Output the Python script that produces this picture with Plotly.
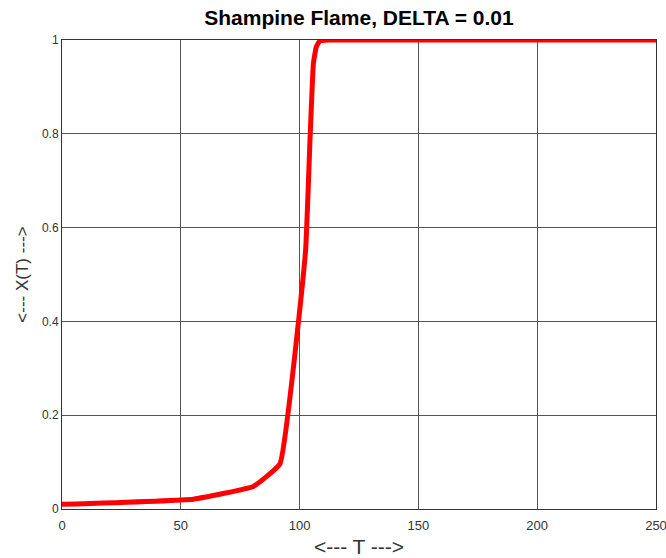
import plotly.graph_objects as go

T = [0, 55.3, 80.5, 91.7, 102.5, 104.4, 105.8, 107.0, 108.5, 112.0, 150, 200, 250]
X = [0.010, 0.021, 0.048, 0.096, 0.55, 0.79, 0.95, 0.985, 0.998, 1.0, 1.0, 1.0, 1.0]

x_ticks = [0, 50, 100, 150, 200, 250]
y_ticks = [0, 0.2, 0.4, 0.6, 0.8, 1]
y_tick_labels = ["0", "0.2", "0.4", "0.6", "0.8", "1"]

fig = go.Figure()
fig.add_trace(go.Scatter(x=T, y=X, mode="lines",
                         line=dict(color="#ff0000", width=5, shape="spline", smoothing=0.3),
                         showlegend=False, cliponaxis=False))

font = "Liberation Sans, Arial, sans-serif"
fig.update_layout(
    width=666, height=558,
    margin=dict(l=62, r=10, t=40, b=49),
    paper_bgcolor="white", plot_bgcolor="white",
    title=dict(text="<b>Shampine Flame, DELTA = 0.01</b>", x=(62 + 656) / 2 / 666, xanchor="center",
               y=1 - 18 / 558, yanchor="middle", font=dict(family=font, size=21, color="black")),
    xaxis=dict(range=[0, 250], tickvals=x_ticks, ticktext=[str(v) for v in x_ticks],
               showgrid=True, gridcolor="#555", gridwidth=1, zeroline=False,
               showline=True, linecolor="#333", linewidth=1, mirror=True, ticks="",
               ticklabelstandoff=4, ticklabeloverflow="allow",
               tickfont=dict(family=font, size=13, color="#333"),
               title=dict(text="<--- T --->", font=dict(family=font, size=21, color="#333"), standoff=10),
               automargin=False),
    yaxis=dict(range=[0, 1], tickvals=y_ticks, ticktext=y_tick_labels,
               showgrid=True, gridcolor="#555", gridwidth=1, zeroline=False,
               showline=True, linecolor="#333", linewidth=1, mirror=True, ticks="",
               ticklabeloverflow="allow",
               tickfont=dict(family=font, size=12, color="#333"),
               title=dict(text="<--- X(T) --->", font=dict(family=font, size=17, color="#333"), standoff=8),
               automargin=False),
)
fig.write_html("out.html", config={"responsive": False, "displayModeBar": False},
               post_script="document.body.style.margin='0';document.body.style.overflow='hidden';")
